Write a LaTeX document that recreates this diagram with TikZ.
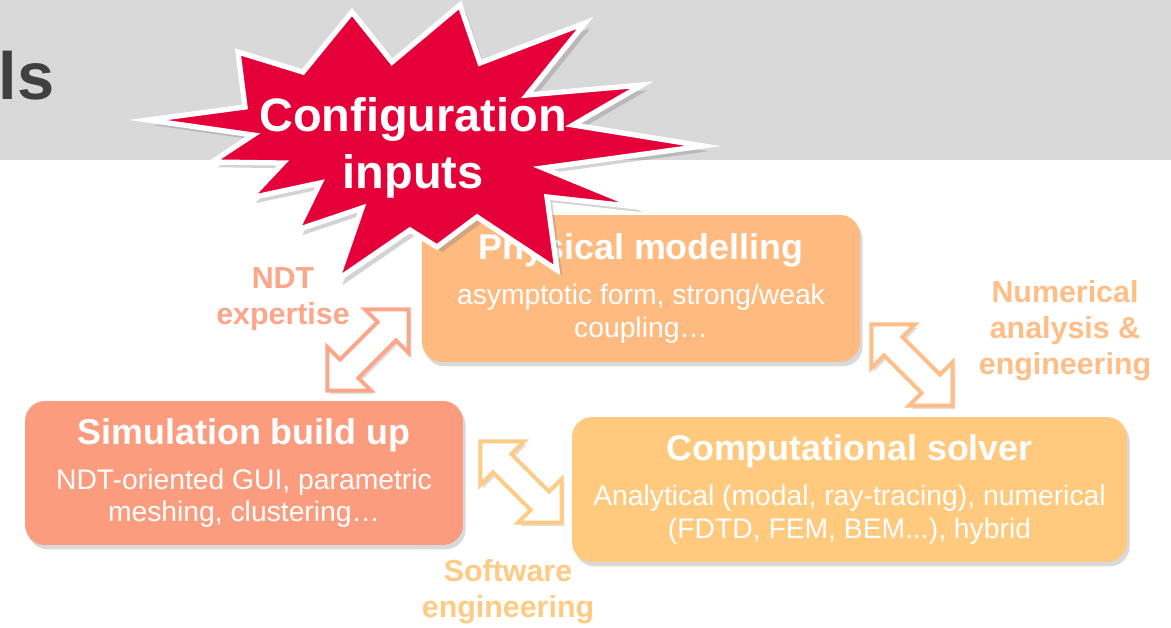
\documentclass[tikz,border=0pt]{standalone}
\usepackage{fontspec}
\setmainfont{Liberation Sans}
\usetikzlibrary{shapes.arrows, shadows, calc, positioning}

\definecolor{bandGray}{HTML}{D9D9D9}
\definecolor{titleGray}{HTML}{404040}
\definecolor{burstRed}{HTML}{E6003A}
\definecolor{simFill}{HTML}{FC9C7E}
\definecolor{physFill}{HTML}{FFBA80}
\definecolor{compFill}{HTML}{FFC97E}
\definecolor{simLine}{HTML}{FCA68A}
\definecolor{physLine}{HTML}{FFBD87}
\definecolor{compLine}{HTML}{FFCB82}

\newcommand{\boxhead}{\fontsize{20.4}{24}\selectfont\bfseries}
\newcommand{\boxbody}{\fontsize{16.1}{18.7}\selectfont}

\begin{document}
\begin{tikzpicture}[x=0.02cm, y=-0.02cm,
    stage/.style={rectangle, rounded corners=0.4cm, text=white, align=center,
                  font=\boxbody, inner sep=0pt,
                  drop shadow={shadow xshift=1.5pt, shadow yshift=-2.5pt, opacity=0.3}},
    link/.style={double arrow, double arrow head extend=0.36cm, fill=white,
                 line width=2.2pt, minimum height=2.3cm,
                 inner xsep=0pt, inner ysep=0.22cm,
                 drop shadow={shadow xshift=1.5pt, shadow yshift=-2pt, opacity=0.25}},
    skill/.style={font=\fontsize{17.3}{20.4}\selectfont\bfseries, align=center},
    burst/.style={fill=burstRed, draw=white, line width=3pt,
                  drop shadow={shadow xshift=3pt, shadow yshift=-3pt, opacity=0.35}},
  ]
  \useasboundingbox (0,0) rectangle (1171,628);

  % header band
  \fill[bandGray] (0,0) rectangle (1171,160);
  \node[anchor=base east, inner sep=0pt, text=titleGray,
        font=\fontsize{38}{44}\selectfont\bfseries] (head) at (55,100) {ls};

  % the three stages
  \node[stage, fill=physFill, minimum width=8.76cm, minimum height=2.94cm] (phys) at (641,288.5)
    {{\boxhead Physical modelling}\\[6.8pt] asymptotic form, strong/weak\\ coupling…};
  \node[stage, fill=simFill, minimum width=8.76cm, minimum height=2.88cm] (sim) at (244,473)
    {{\boxhead Simulation build up}\\[6.8pt] NDT-oriented GUI, parametric\\ meshing, clustering…};
  \node[stage, fill=compFill, minimum width=11.1cm, minimum height=2.9cm] (comp) at (849.5,489.5)
    {{\boxhead Computational solver}\\[6.8pt] Analytical (modal, ray-tracing), numerical\\ (FDTD, FEM, BEM...), hybrid};

  % double arrows between stages
  \node[link, draw=simLine, rotate=45] (simphys) at (368,350) {};
  \node[link, draw=physLine, rotate=-45] (physcomp) at (912,365) {};
  \node[link, draw=compLine, rotate=-45] (simcomp) at (521,482) {};

  \node[skill, text=simLine] (ndt) at (283,299.5) {NDT\\expertise};
  \node[skill, text=physLine] (num) at (1065,331) {Numerical\\analysis \&\\engineering};
  \node[skill, text=compLine] (soft) at (508,592) {Software\\engineering};

  % starburst
  \draw[burst] (148,120) -- (245,107) -- (238,52) -- (303,72) -- (352,12) -- (392,62)
    -- (460,5) -- (480,63) -- (585,23) -- (527,95) -- (642,85) -- (573,125)
    -- (703,146) -- (543,168) -- (638,207) -- (547,197) -- (557,270) -- (477,217)
    -- (437,247) -- (410,230) -- (337,280) -- (362,208) -- (297,230) -- (320,183)
    -- (250,198) -- (283,163) -- (212,162) -- (253,135) -- cycle;
  \node[text=white, align=center, font=\fontsize{26.7}{32.3}\selectfont\bfseries] (cfg) at (413,148)
    {Configuration\\inputs};
\end{tikzpicture}
\end{document}
